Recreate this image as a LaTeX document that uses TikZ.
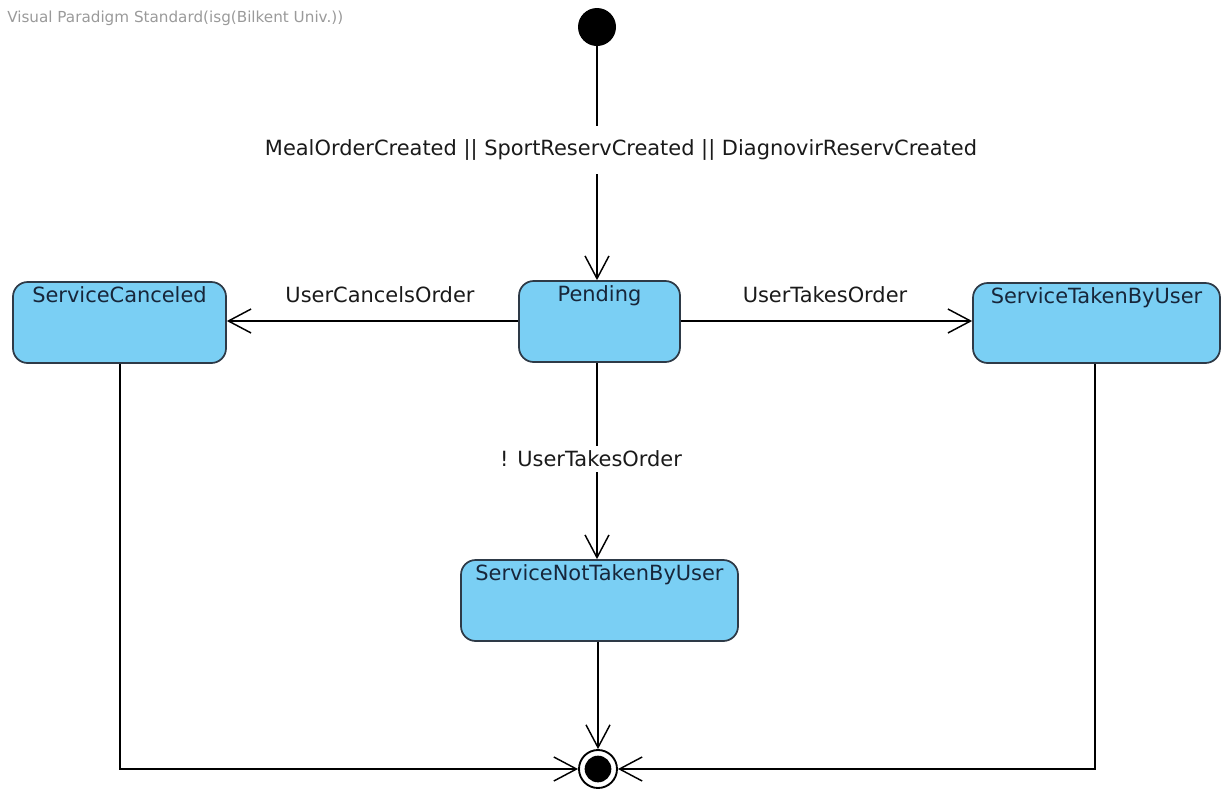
\documentclass[tikz,border=0pt]{standalone}
\usepackage{fontspec}
\setmainfont{DejaVu Sans}
\usetikzlibrary{arrows.meta}
\definecolor{statefill}{HTML}{7ACFF4}
\definecolor{stateline}{HTML}{2E3A47}
\definecolor{statetext}{HTML}{17263A}
\definecolor{edgetext}{HTML}{1A1A1A}
\definecolor{wmark}{HTML}{9A9A9A}
\begin{document}
\begin{tikzpicture}[x=0.75pt,y=-0.75pt,
  font=\fontsize{15.7pt}{18pt}\selectfont,
  statebox/.style={draw=stateline, fill=statefill, line width=1.3pt,
    rounded corners=11pt, inner sep=0pt},
  flow/.style={line width=1.3pt, draw=black,
    -{Straight Barb[length=17pt,width=18pt,line width=1.1pt]}},
  edgelabel/.style={text=edgetext, inner sep=2pt},
  gaplabel/.style={text=edgetext, fill=white, inner xsep=4pt, inner ysep=10pt},
  statelabel/.style={inner sep=0pt, anchor=north, text=statetext, yshift=-3.6pt}]
  \useasboundingbox (0,0) rectangle (1225,793);

  % header text
  \node[anchor=west, text=wmark, font=\fontsize{11.4pt}{13pt}\selectfont, inner sep=0pt] (hdr) at (7,18) {Visual Paradigm Standard(isg(Bilkent Univ.))};

  % pseudo states
  \node[circle, fill=black, minimum size=28.5pt, inner sep=0pt] (init) at (597,27) {};
  \node[circle, draw=black, line width=1.4pt, fill=white, minimum size=28.5pt, inner sep=0pt] (final) at (598,769) {};
  \node[circle, fill=black, minimum size=20pt, inner sep=0pt] (finaldot) at (598,769) {};

  % states
  \node[statebox, minimum width=120.75pt, minimum height=60.75pt,
        label={[statelabel]north:Pending}] (pending) at (599.5,321.5) {};
  \node[statebox, minimum width=159.75pt, minimum height=60.75pt,
        label={[statelabel]north:ServiceCanceled}] (canceled) at (119.5,322.5) {};
  \node[statebox, minimum width=185.25pt, minimum height=60pt,
        label={[statelabel]north:ServiceTakenByUser}] (taken) at (1096.5,323) {};
  \node[statebox, minimum width=207.75pt, minimum height=60.75pt,
        label={[statelabel]north:ServiceNotTakenByUser}] (nottaken) at (599.5,600.5) {};

  % transitions
  \draw[flow] (init) -- (init |- pending.north);
  \node[gaplabel] (lcreate) at (621,150) {MealOrderCreated || SportReservCreated || DiagnovirReservCreated};

  \draw[flow] (pending.west |- 0,321) -- (canceled.east |- 0,321);
  \node[edgelabel] (lcancel) at (380,295) {UserCancelsOrder};

  \draw[flow] (pending.east |- 0,321) -- (taken.west |- 0,321);
  \node[edgelabel] (ltake) at (825,295) {UserTakesOrder};

  \draw[flow] (pending.south -| 597,0) -- (nottaken.north -| 597,0);
  \node[gaplabel, inner ysep=4pt] (lnottake) at (591,459) {! UserTakesOrder};

  \draw[flow] (nottaken.south -| 598,0) -- (final.north);
  \draw[flow] (canceled.south -| 120,0) |- (final.west);
  \draw[flow] (taken.south -| 1095,0) |- (final.east);
\end{tikzpicture}
\end{document}
